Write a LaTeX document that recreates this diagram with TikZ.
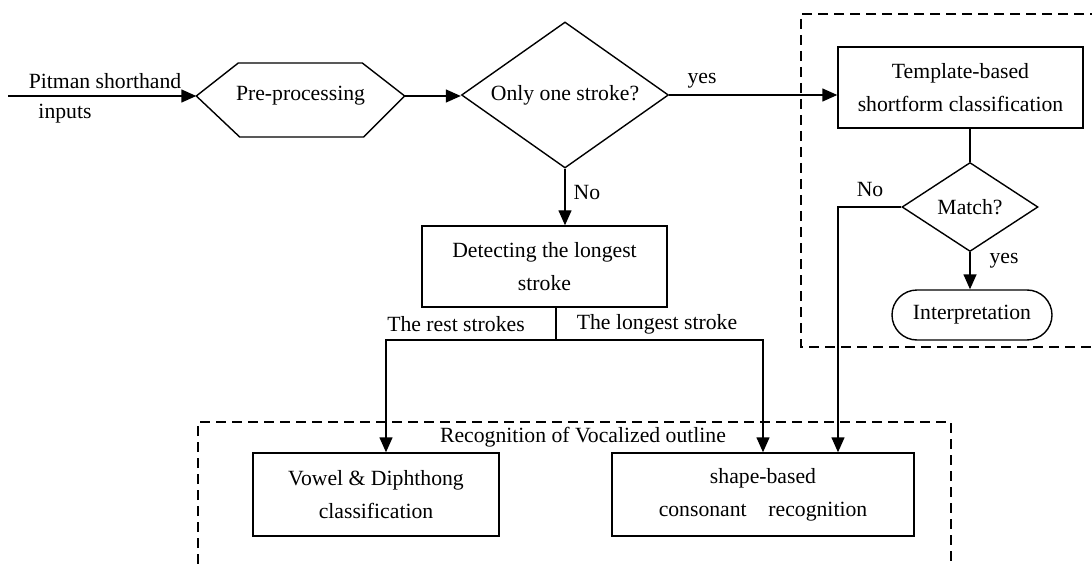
\documentclass[tikz,border=0pt]{standalone}
\usepackage{fontspec}
\setmainfont{Liberation Serif}
\usetikzlibrary{arrows.meta,shapes.geometric,shapes.misc,calc}
\begin{document}
\begin{tikzpicture}[x=1pt,y=-1pt,
  font=\fontsize{21.7}{33}\selectfont,
  line width=1.4pt,
  arr/.style={-{Triangle[length=15pt,width=13pt]}},
  procbox/.style={draw,rectangle,inner sep=0pt,align=center},
  decision/.style={draw,diamond,inner sep=0pt,align=center},
  terminal/.style={draw,rounded rectangle,inner sep=0pt,align=center},
  group/.style={dashed,line width=1.6pt,dash pattern=on 10pt off 6pt},
  lbl/.style={inner sep=0pt,anchor=center}]
\useasboundingbox (0,0) rectangle (1092,564);

% dashed groupings
\draw[group] (1100,14) -- (801,14) -- (801,347) -- (1100,347);
\draw[group] (198,580) -- (198,422) -- (951,422) -- (951,580);

% nodes
\node[inner sep=0pt,minimum width=207pt,minimum height=1pt] (pre) at (300.5,96) {Pre-processing};
\draw (pre.west) -- ++(42,-33) -- ++(124,0) -- (pre.east) -- ++(-41,41) -- ++(-124,0) -- cycle;

\node[decision,aspect=1.42,minimum width=207pt,minimum height=146pt] (one) at (565,95) {Only one stroke?};
\node[procbox,minimum width=245pt,minimum height=81pt] (tmpl) at (960.5,87.5) {Template-based\\shortform classification};
\node[decision,aspect=1.53,minimum width=136pt,minimum height=89pt] (match) at (970,207) {Match?};
\node[terminal,minimum width=160pt,minimum height=50pt] (interp) at (972,315) {Interpretation};
\node[procbox,minimum width=245pt,minimum height=81pt] (detect) at (544.5,266.5) {Detecting the longest\\stroke};
\node[procbox,minimum width=246pt,minimum height=83pt] (vowel) at (376,494.5) {Vowel \& Diphthong\\classification};
\node[procbox,minimum width=302pt,minimum height=83pt] (shape) at (763,494.5) {shape-based\\consonant\quad recognition};

% texts
\node[lbl] (tin1) at (105,81) {Pitman shorthand};
\node[lbl] (tin2) at (65,114) {inputs};
\node[lbl] (tyes1) at (702,81) {yes};
\node[lbl] (tno1) at (587,193) {No};
\node[lbl] (tno2) at (870,190) {No};
\node[lbl] (tyes2) at (1004,261) {yes};
\node[lbl] (trest) at (456,324) {The rest strokes};
\node[lbl] (tlong) at (657,324) {The longest stroke};
\node[lbl] (tgrp) at (583,437) {Recognition of Vocalized outline};

% connectors
\coordinate (in) at (8,96);
\coordinate (split) at (556,340);
\draw[arr] (in) -- (pre.west);
\draw[arr] (pre.east) -- (pre.east -| one.west);
\draw[arr] (one.east) -- (one.east -| tmpl.west);
\draw (tmpl.south -| match.north) -- (match.north);
\draw[arr] (match.south) -- (match.south |- interp.north);
\draw[arr] (match.west) -| ([xshift=75pt]shape.north);
\draw[arr] (one.south) -- (one.south |- detect.north);
\draw (detect.south -| split) -- (split);
\draw[arr] (split) -| ([xshift=10pt]vowel.north);
\draw[arr] (split) -| (shape.north);
\end{tikzpicture}
\end{document}
